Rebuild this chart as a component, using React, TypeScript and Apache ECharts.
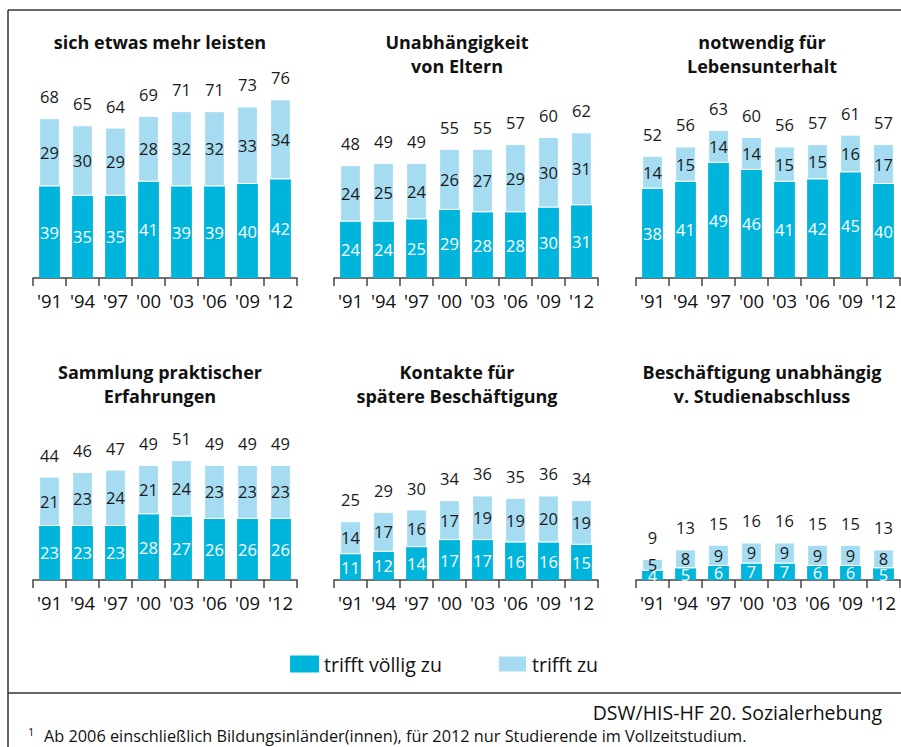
import React, { useEffect, useRef } from "react";
import * as echarts from "echarts";

const years = ["'91", "'94", "'97", "'00", "'03", "'06", "'09", "'12"];

const titles = [
  "sich etwas mehr leisten",
  "Unabhängigkeit\nvon Eltern",
  "notwendig für\nLebensunterhalt",
  "Sammlung praktischer\nErfahrungen",
  "Kontakte für\nspätere Beschäftigung",
  "Beschäftigung unabhängig\nv. Studienabschluss",
];

const p1Dark = [39, 35, 35, 41, 39, 39, 40, 42];
const p1Light = [29, 30, 29, 28, 32, 32, 33, 34];
const p1Total = [68, 65, 64, 69, 71, 71, 73, 76];

const p2Dark = [24, 24, 25, 29, 28, 28, 30, 31];
const p2Light = [24, 25, 24, 26, 27, 29, 30, 31];
const p2Total = [48, 49, 49, 55, 55, 57, 60, 62];

const p3Dark = [38, 41, 49, 46, 41, 42, 45, 40];
const p3Light = [14, 15, 14, 14, 15, 15, 16, 17];
const p3Total = [52, 56, 63, 60, 56, 57, 61, 57];

const p4Dark = [23, 23, 23, 28, 27, 26, 26, 26];
const p4Light = [21, 23, 24, 21, 24, 23, 23, 23];
const p4Total = [44, 46, 47, 49, 51, 49, 49, 49];

const p5Dark = [11, 12, 14, 17, 17, 16, 16, 15];
const p5Light = [14, 17, 16, 17, 19, 19, 20, 19];
const p5Total = [25, 29, 30, 34, 36, 35, 36, 34];

const p6Dark = [4, 5, 6, 7, 7, 6, 6, 5];
const p6Light = [5, 8, 9, 9, 9, 9, 9, 8];
const p6Total = [9, 13, 15, 16, 16, 15, 15, 13];

const legendNames = ["trifft völlig zu", "trifft zu"];
const sourceText = "DSW/HIS-HF 20. Sozialerhebung";
const footnoteText =
  "Ab 2006 einschließlich Bildungsinländer(innen), für 2012 nur Studierende im Vollzeitstudium.";

const DARK = "#00b5dc";
const LIGHT = "#a6dcf1";
const FONT = "'Open Sans', 'Noto Sans', sans-serif";

export default function App() {
  const ref = useRef<HTMLDivElement>(null);

  useEffect(() => {
    if (!ref.current) return;
    const chart = echarts.init(ref.current, undefined, { renderer: "svg" });

    const panels = [
      { dark: p1Dark, light: p1Light, total: p1Total },
      { dark: p2Dark, light: p2Light, total: p2Total },
      { dark: p3Dark, light: p3Light, total: p3Total },
      { dark: p4Dark, light: p4Light, total: p4Total },
      { dark: p5Dark, light: p5Light, total: p5Total },
      { dark: p6Dark, light: p6Light, total: p6Total },
    ];

    const colLeft = [33, 334, 636];
    const colWidth = 264;
    const rowTop = [90, 392];
    const gridH = 188;
    const titleX = [160, 457, 762];
    const titleY = [30, 360];

    const grids: any[] = [];
    const xAxes: any[] = [];
    const yAxes: any[] = [];
    const series: any[] = [];
    const graphics: any[] = [];

    const lbl = (color: string) => ({
      show: true,
      position: "inside",
      color,
      fontSize: 16.5,
      fontFamily: FONT,
      textBorderWidth: 0,
    });

    panels.forEach((p, i) => {
      const c = i % 3;
      const r = Math.floor(i / 3);
      grids.push({ left: colLeft[c], top: rowTop[r], width: colWidth, height: gridH });
      xAxes.push({
        type: "category",
        gridIndex: i,
        data: years,
        axisLine: { lineStyle: { color: "#444", width: 1.5 } },
        axisTick: { show: true, length: 8, lineStyle: { color: "#444", width: 1.5 } },
        axisLabel: { fontSize: 18.5, color: "#111", margin: 13, fontFamily: FONT },
      });
      yAxes.push({ type: "value", gridIndex: i, min: 0, max: 80, show: false });
      series.push({
        type: "bar",
        name: legendNames[0],
        xAxisIndex: i,
        yAxisIndex: i,
        stack: "s" + i,
        data: p.dark,
        barWidth: "63%",
        itemStyle: { color: DARK },
        label: lbl("#ffffff"),
      });
      series.push({
        type: "bar",
        name: legendNames[1],
        xAxisIndex: i,
        yAxisIndex: i,
        stack: "s" + i,
        data: p.light,
        barWidth: "63%",
        itemStyle: { color: LIGHT, borderColor: "#ffffff", borderWidth: 1 },
        label: lbl("#1a1a1a"),
      });
      series.push({
        type: "scatter",
        name: "total" + i,
        xAxisIndex: i,
        yAxisIndex: i,
        data: p.total,
        symbolSize: 0,
        silent: true,
        itemStyle: { color: "#1a1a1a", opacity: 1 },
        label: {
          show: true,
          position: "top",
          distance: 13,
          color: "#1a1a1a",
          fontSize: 16.5,
          fontFamily: FONT,
          textBorderWidth: 0,
          opacity: 1,
        },
      });
      graphics.push({
        type: "text",
        x: titleX[c],
        y: titleY[r],
        style: {
          text: titles[i],
          textAlign: "center",
          textVerticalAlign: "top",
          font: `bold 18px ${FONT}`,
          fill: "#111",
          lineHeight: 24,
        },
      });
    });

    const lineStyle = { stroke: "#333", lineWidth: 1.5 };
    graphics.push(
      { type: "line", shape: { x1: 8, y1: 10, x2: 901, y2: 10 }, style: lineStyle },
      { type: "line", shape: { x1: 8, y1: 10, x2: 8, y2: 747 }, style: lineStyle },
      { type: "line", shape: { x1: 8, y1: 693, x2: 901, y2: 693 }, style: lineStyle },
      {
        type: "text",
        x: 882,
        y: 712,
        style: {
          text: sourceText,
          textAlign: "right",
          textVerticalAlign: "middle",
          font: `19.5px ${FONT}`,
          fill: "#111",
        },
      },
      {
        type: "text",
        x: 28,
        y: 731,
        style: {
          text: "1",
          textAlign: "left",
          textVerticalAlign: "middle",
          font: `11px ${FONT}`,
          fill: "#111",
        },
      },
      {
        type: "text",
        x: 44,
        y: 736,
        style: {
          text: footnoteText,
          textAlign: "left",
          textVerticalAlign: "middle",
          font: `16.3px ${FONT}`,
          fill: "#111",
        },
      }
    );

    chart.setOption({
      animation: false,
      backgroundColor: "#ffffff",
      grid: grids,
      xAxis: xAxes,
      yAxis: yAxes,
      series,
      legend: {
        data: legendNames,
        left: 285,
        top: 649,
        itemWidth: 29,
        itemHeight: 17,
        itemGap: 55,
        icon: "rect",
        selectedMode: false,
        textStyle: { fontSize: 19.5, color: "#111", fontFamily: FONT },
      },
      graphic: graphics,
    });

    return () => chart.dispose();
  }, []);

  return (
    <div
      ref={ref}
      style={{ position: "fixed", left: 0, top: 0, width: 901, height: 747, background: "#fff" }}
    />
  );
}
